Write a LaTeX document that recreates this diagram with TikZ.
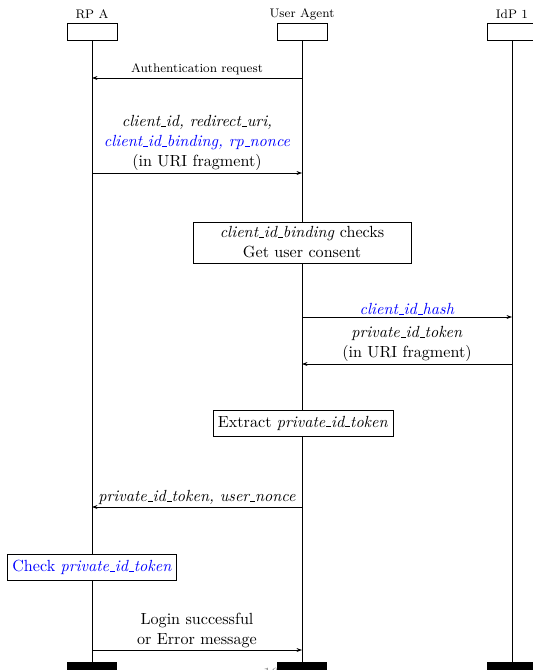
\documentclass[tikz,border=0pt]{standalone}
\usepackage{amsmath}
\usetikzlibrary{arrows.meta}
% short underscore as in OT1
\renewcommand{\_}{\leavevmode\kern.06em\vbox{\hrule width.3em}}
\begin{document}
\begin{tikzpicture}[x=0.645pt,y=-0.645pt,
    head/.style={draw,fill=white,minimum width=32.25pt,minimum height=11pt,inner sep=0pt},
    foot/.style={fill=black,minimum width=32.25pt,minimum height=6.45pt,inner sep=0pt},
    action/.style={draw,fill=white,align=center,inner xsep=3.2pt,inner ysep=2pt,minimum height=16.8pt,
        font=\fontsize{10.4}{12.9}\selectfont},
    msg/.style={-{Stealth[length=3.5pt,width=2.5pt]},thin},
    lbl/.style={above,align=center,inner sep=1.5pt,font=\fontsize{10.4}{12.9}\selectfont}]
    \useasboundingbox (0,0) rectangle (533,670);

    % draw actors
    \node[head] (rpa) at (92,31.5) {};
    \node[head] (ua) at (302,31.5) {};
    \node[head] (idp) at (512,31.5) {};
    \node[font=\footnotesize] at (92,14) {RP A};
    \node[font=\footnotesize] at (302,14) {User Agent};
    \node[font=\footnotesize] at (512,14) {IdP 1};

    % page number behind the bars
    \node[gray] at (271,673) {16};

    % draw lifeline ends
    \node[foot] (rpaend) at (92,667) {};
    \node[foot] (uaend) at (302,667) {};
    \node[foot] (idpend) at (512,667) {};
    \draw (rpa) -- (rpaend);
    \draw (ua) -- (uaend);
    \draw (idp) -- (idpend);

    % draw messages
    \coordinate (ua1) at (302,78);  \coordinate (rp1) at (92,78);
    \draw[msg] (ua1) -- node[lbl,font=\footnotesize] {Authentication request} (rp1);

    \coordinate (rp2) at (92,173);  \coordinate (ua2) at (302,173);
    \draw[msg] (rp2) -- node[lbl] {\textit{client\_id, redirect\_uri,}\\
        \textcolor{blue}{\textit{client\_id\_binding, rp\_nonce}}\\
        (in URI fragment)} (ua2);

    \node[action,minimum width=140.6pt,minimum height=26.4pt] (bind) at (302,242.5)
        {\textit{client\_id\_binding} checks\\Get user consent};

    \coordinate (ua3) at (302,317);  \coordinate (idp3) at (512,317);
    \draw[msg] (ua3) -- node[lbl] {\textcolor{blue}{\textit{client\_id\_hash}}} (idp3);

    \coordinate (idp4) at (512,364);  \coordinate (ua4) at (302,364);
    \draw[msg] (idp4) -- node[lbl] {\textit{private\_id\_token}\\(in URI fragment)} (ua4);

    \node[action] (extract) at (303,423) {Extract \textit{private\_id\_token}};

    \coordinate (ua5) at (302,507);  \coordinate (rp5) at (92,507);
    \draw[msg] (ua5) -- node[lbl] {\textit{private\_id\_token, user\_nonce}} (rp5);

    \node[action,text=blue] (check) at (92,567) {Check \textit{private\_id\_token}};

    \coordinate (rp6) at (92,650);  \coordinate (ua6) at (302,650);
    \draw[msg] (rp6) -- node[lbl] {Login successful\\or Error message} (ua6);
\end{tikzpicture}
\end{document}
